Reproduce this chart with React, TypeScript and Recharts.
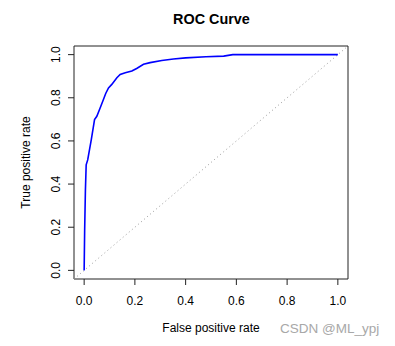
import React from "react";
import { LineChart, Line, XAxis, YAxis, ReferenceArea } from "recharts";

// ROC curve points
const fpr = [0, 0.002, 0.005, 0.008, 0.014, 0.028, 0.041, 0.05, 0.063, 0.076, 0.085, 0.096, 0.109, 0.129, 0.142, 0.162, 0.188, 0.207, 0.234, 0.26, 0.306, 0.352, 0.4, 0.48, 0.55, 0.586, 1.0];
const tpr = [0, 0.186, 0.373, 0.489, 0.512, 0.605, 0.699, 0.714, 0.753, 0.792, 0.82, 0.846, 0.862, 0.893, 0.908, 0.916, 0.924, 0.936, 0.955, 0.963, 0.973, 0.98, 0.985, 0.99, 0.993, 1.0, 1.0];

// diagonal reference line (abline 0,1) across the full plot region
const diagX = [-0.04, 1.04];

const axisDomain = [-0.04, 1.04];
const xTicks = [0, 0.2, 0.4, 0.6, 0.8, 1.0];
const yTicks = [0, 0.2, 0.4, 0.6, 0.8, 1.0];

const title = "ROC Curve";
const xTitle = "False positive rate";
const yTitle = "True positive rate";
const watermark = "CSDN @ML_ypj";

const rocData = fpr.map((x, i) => ({ x, y: tpr[i] }));
const diagData = diagX.map((v) => ({ x: v, d: v }));

const FONT = "'Liberation Sans', Arial, Helvetica, sans-serif";

const YTick = (props: any) => {
  const { x, y, payload } = props;
  return (
    <text
      x={x}
      y={y}
      transform={`rotate(-90, ${x}, ${y})`}
      textAnchor="middle"
      fontSize={12}
      fontFamily={FONT}
      fill="#000"
    >
      {Number(payload.value).toFixed(1)}
    </text>
  );
};

export default function App() {
  return (
    <div style={{ position: "absolute", left: 0, top: 0, width: 395, height: 346, background: "#fff" }}>
      <LineChart
        width={395}
        height={346}
        margin={{ top: 46, right: 47, left: 0, bottom: 0 }}
      >
        <XAxis
          dataKey="x"
          type="number"
          domain={axisDomain}
          allowDataOverflow
          ticks={xTicks}
          tickFormatter={(v: number) => v.toFixed(1)}
          axisLine={false}
          tickLine={{ stroke: "#222" }}
          tickSize={6}
          tickMargin={11}
          height={67}
          tick={{ fontSize: 12, fontFamily: FONT, fill: "#000" }}
        />
        <YAxis
          type="number"
          domain={axisDomain}
          allowDataOverflow
          ticks={yTicks}
          axisLine={false}
          tickLine={{ stroke: "#222" }}
          tickSize={6}
          tickMargin={8}
          width={74}
          tick={<YTick />}
        />
        <ReferenceArea
          x1={-0.04}
          x2={1.04}
          y1={-0.04}
          y2={1.04}
          fill="none"
          fillOpacity={0}
          stroke="#222"
          strokeWidth={1}
          ifOverflow="visible"
        />
        <Line
          data={diagData}
          dataKey="d"
          type="linear"
          stroke="#9a9a9a"
          strokeWidth={1}
          strokeDasharray="1 3"
          dot={false}
          isAnimationActive={false}
        />
        <Line
          data={rocData}
          dataKey="y"
          type="linear"
          stroke="#0000ff"
          strokeWidth={1.6}
          dot={false}
          isAnimationActive={false}
        />
      </LineChart>
      <svg
        width={395}
        height={346}
        style={{ position: "absolute", left: 0, top: 0, pointerEvents: "none" }}
      >
        <text x={211.5} y={24} textAnchor="middle" fontSize={14.4} fontWeight="bold" fontFamily={FONT} fill="#000">
          {title}
        </text>
        <text x={211} y={331.5} textAnchor="middle" fontSize={12} fontFamily={FONT} fill="#000">
          {xTitle}
        </text>
        <text
          x={30}
          y={162.5}
          transform="rotate(-90, 30, 162.5)"
          textAnchor="middle"
          fontSize={12}
          fontFamily={FONT}
          fill="#000"
        >
          {yTitle}
        </text>
        <text x={280} y={333} textAnchor="start" fontSize={13.5} fontFamily={FONT} fill="#a8a8a8">
          {watermark}
        </text>
      </svg>
    </div>
  );
}
